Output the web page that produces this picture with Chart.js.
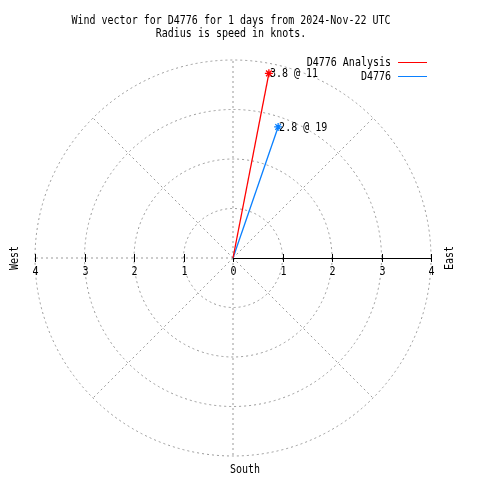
<!DOCTYPE html>
<html>
<head>
<meta charset="utf-8">
<script src="https://cdn.jsdelivr.net/npm/chart.js@4.4.1/dist/chart.umd.min.js"></script>
<style>
  html, body { margin: 0; padding: 0; background: #fff; }
  #wrap { position: relative; width: 480px; height: 480px; }
</style>
</head>
<body>
<div id="wrap"><canvas id="wind-chart"></canvas></div>
<script>
// series: speed in knots, direction in degrees (clockwise from north)
const seriesNames = ["D4776 Analysis", "D4776"];
const seriesColors = ["#ff0000", "#0a80ff"];
const speeds = [3.8, 2.8];
const directions = [11, 19];

// polar grid
const ringValues = [1, 2, 3, 4];
const spokeAngles = [0, 45, 90, 135, 180, 225, 270, 315];
const tickValues = [-4, -3, -2, -1, 0, 1, 2, 3, 4];
const titleLines = [
  "Wind vector for D4776 for 1 days from 2024-Nov-22 UTC",
  "Radius is speed in knots."
];

const MONO = "10px 'DejaVu Sans Mono', 'Liberation Mono', monospace";
const GRID = "#999999";

// gnuplot's gd font is taller than wide, stretch a bit
function tallText(ctx, t, x, y) {
  ctx.save();
  ctx.translate(x, y);
  ctx.scale(1, 1.2);
  ctx.fillText(t, 0, 0);
  ctx.restore();
}

const polarDecor = {
  id: "polarDecor",
  beforeDatasetsDraw(chart) {
    const { ctx, scales: { x, y } } = chart;
    const cx = x.getPixelForValue(0), cy = y.getPixelForValue(0);
    const unit = x.getPixelForValue(1) - cx;
    const rMax = ringValues[ringValues.length - 1];

    ctx.save();
    ctx.strokeStyle = GRID;
    ctx.lineWidth = 1;
    ctx.setLineDash([2, 3]);
    ringValues.forEach(r => {
      ctx.beginPath();
      ctx.arc(cx, cy, r * unit, 0, Math.PI * 2);
      ctx.stroke();
    });
    spokeAngles.forEach(a => {
      if (a === 90) return; // east half is the solid axis
      const rad = a * Math.PI / 180;
      ctx.beginPath();
      ctx.moveTo(cx, cy);
      ctx.lineTo(x.getPixelForValue(rMax * Math.sin(rad)), y.getPixelForValue(rMax * Math.cos(rad)));
      ctx.stroke();
    });
    ctx.setLineDash([]);

    // solid radial axis with ticks
    ctx.strokeStyle = "#000";
    ctx.beginPath();
    ctx.moveTo(cx, cy + 0.5);
    ctx.lineTo(x.getPixelForValue(rMax), cy + 0.5);
    ctx.stroke();
    ctx.fillStyle = "#000";
    ctx.font = MONO;
    ctx.textAlign = "center";
    ctx.textBaseline = "middle";
    tickValues.forEach(v => {
      const px = Math.round(x.getPixelForValue(v)) + 0.5;
      ctx.beginPath();
      ctx.moveTo(px, cy - 4);
      ctx.lineTo(px, cy + 4);
      ctx.stroke();
      tallText(ctx, String(Math.abs(v)), px, cy + 14);
    });

    // compass labels
    tallText(ctx, "South", cx + 12, y.getPixelForValue(-rMax) + 14);
    ctx.save();
    ctx.translate(15, cy);
    ctx.rotate(-Math.PI / 2);
    tallText(ctx, "West", 0, 0);
    ctx.restore();
    ctx.save();
    ctx.translate(450, cy);
    ctx.rotate(-Math.PI / 2);
    tallText(ctx, "East", 0, 0);
    ctx.restore();

    // title
    titleLines.forEach((t, i) => tallText(ctx, t, 231, 21 + i * 12.5));

    // legend
    ctx.textAlign = "right";
    chart.data.datasets.forEach((ds, i) => {
      const ly = 63 + i * 14;
      ctx.fillStyle = "#000";
      tallText(ctx, ds.label, 391, ly);
      ctx.strokeStyle = ds.borderColor;
      ctx.beginPath();
      ctx.moveTo(398, ly - 0.5);
      ctx.lineTo(427, ly - 0.5);
      ctx.stroke();
    });
    ctx.restore();
  },
  afterDatasetsDraw(chart) {
    const { ctx } = chart;
    ctx.save();
    ctx.fillStyle = "#000";
    ctx.font = MONO;
    ctx.textAlign = "left";
    ctx.textBaseline = "middle";
    chart.data.datasets.forEach((ds, i) => {
      const pt = chart.getDatasetMeta(i).data[1];
      tallText(ctx, speeds[i].toFixed(1) + " @ " + directions[i], pt.x + 1, pt.y + 1);
    });
    ctx.restore();
  }
};

const datasets = speeds.map((s, i) => {
  const rad = directions[i] * Math.PI / 180;
  return {
    label: seriesNames[i],
    data: [{ x: 0, y: 0 }, { x: s * Math.sin(rad), y: s * Math.cos(rad) }],
    showLine: true,
    borderColor: seriesColors[i],
    backgroundColor: seriesColors[i],
    borderWidth: 1.3,
    pointStyle: "star",
    pointRadius: [0, 4],
    pointBorderWidth: 1.3,
  };
});

new Chart(document.getElementById("wind-chart").getContext("2d"), {
  type: "scatter",
  data: { datasets },
  options: {
    responsive: true,
    maintainAspectRatio: false,
    animation: false,
    layout: { padding: { left: 35, right: 49, top: 60, bottom: 24 } },
    plugins: { legend: { display: false }, tooltip: { enabled: false }, title: { display: false } },
    scales: {
      x: { type: "linear", min: -4, max: 4, display: false },
      y: { type: "linear", min: -4, max: 4, display: false },
    },
  },
  plugins: [polarDecor],
});
</script>
</body>
</html>
